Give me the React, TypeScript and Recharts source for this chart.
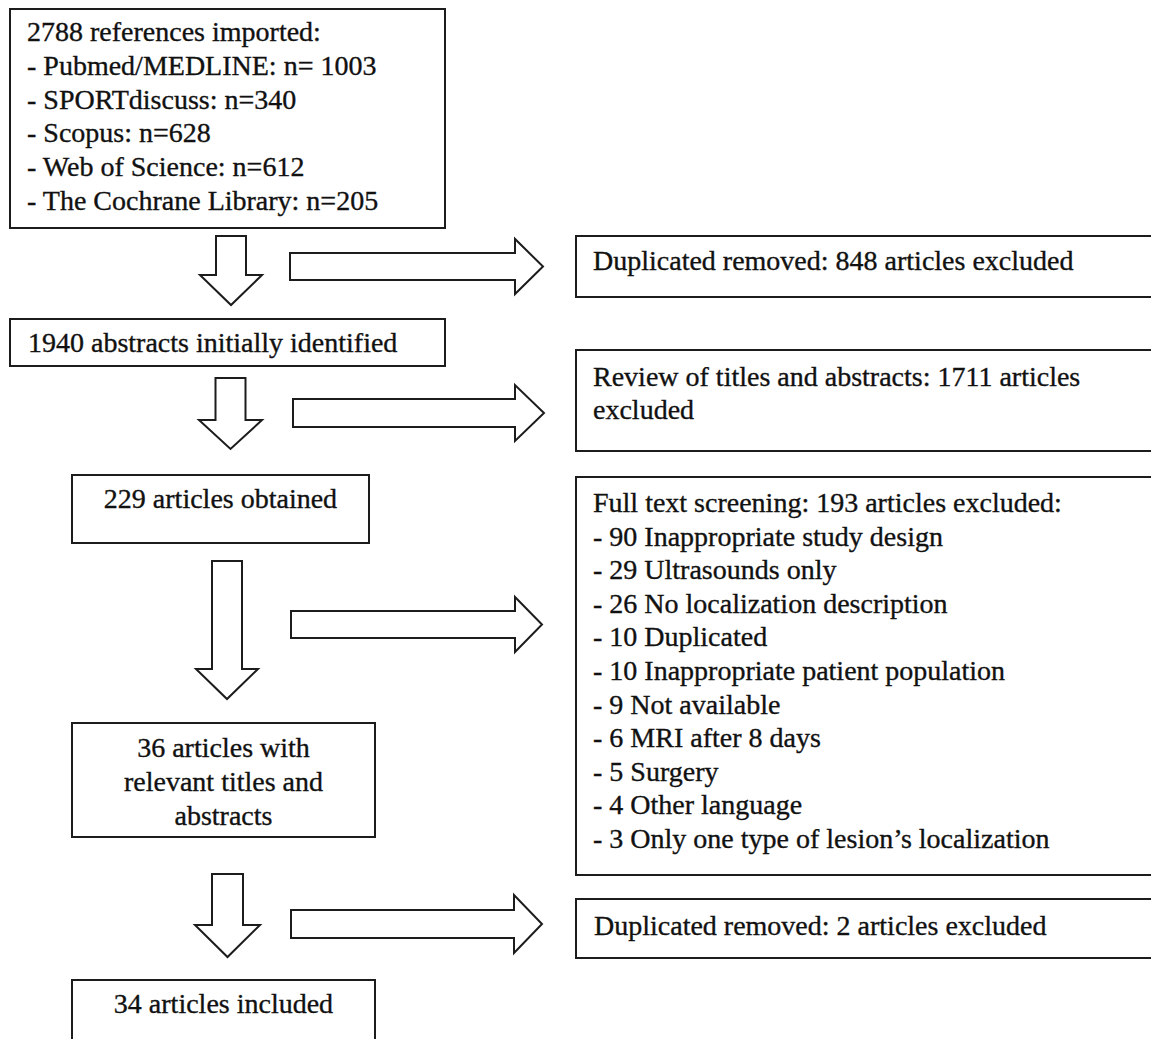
import React from 'react';
import { ComposedChart, XAxis, YAxis, ReferenceArea } from 'recharts';

// ---------- data ----------
const sourceNames = ['Pubmed/MEDLINE', 'SPORTdiscuss', 'Scopus', 'Web of Science', 'The Cochrane Library'];
const sourceCountText = ['n= 1003', 'n=340', 'n=628', 'n=612', 'n=205'];

const stageCounts = [2788, 1940, 229, 36, 34];
const stageLabels = ['references imported:', 'abstracts initially identified', 'articles obtained', 'articles with', 'articles included'];
const relevantExtraLines = ['relevant titles and', 'abstracts'];

const exclusionCounts = [848, 1711, 193, 2];
const exclusionLabels = ['Duplicated removed:', 'Review of titles and abstracts:', 'Full text screening:', 'Duplicated removed:'];

const reasonCounts = [90, 29, 26, 10, 10, 9, 6, 5, 4, 3];
const reasonLabels = [
  'Inappropriate study design',
  'Ultrasounds only',
  'No localization description',
  'Duplicated',
  'Inappropriate patient population',
  'Not available',
  'MRI after 8 days',
  'Surgery',
  'Other language',
  'Only one type of lesion\u2019s localization',
];

// ---------- text per box ----------
const boxText: Record<string, string[]> = {
  imported: [
    `${stageCounts[0]} ${stageLabels[0]}`,
    ...sourceNames.map((n, i) => `- ${n}: ${sourceCountText[i]}`),
  ],
  dup1: [`${exclusionLabels[0]} ${exclusionCounts[0]} articles excluded`],
  abstracts: [`${stageCounts[1]} ${stageLabels[1]}`],
  review: [`${exclusionLabels[1]} ${exclusionCounts[1]} articles`, 'excluded'],
  obtained: [`${stageCounts[2]} ${stageLabels[2]}`],
  fulltext: [
    `${exclusionLabels[2]} ${exclusionCounts[2]} articles excluded:`,
    ...reasonCounts.map((c, i) => `- ${c} ${reasonLabels[i]}`),
  ],
  relevant: [`${stageCounts[3]} ${stageLabels[3]}`, ...relevantExtraLines],
  dup2: [`${exclusionLabels[3]} ${exclusionCounts[3]} articles excluded`],
  included: [`${stageCounts[4]} ${stageLabels[4]}`],
};

// ---------- layout (diagram units, mapped through the axes) ----------
const W = 1151;
const H = 1039;

const boxLayout = [
  { id: 'imported', x1: 10, x2: 445, y1: 9, y2: 228, align: 'left', pad: 17, first: 32, lh: 33.8 },
  { id: 'dup1', x1: 576, x2: 1162, y1: 236, y2: 297, align: 'left', pad: 17, first: 34, lh: 33.6 },
  { id: 'abstracts', x1: 10, x2: 445, y1: 319, y2: 366, align: 'left', pad: 18, first: 33, lh: 33.6 },
  { id: 'review', x1: 576, x2: 1162, y1: 350, y2: 451, align: 'left', pad: 17, first: 36, lh: 33 },
  { id: 'obtained', x1: 72, x2: 369, y1: 475, y2: 543, align: 'center', pad: 0, first: 33, lh: 33.6 },
  { id: 'fulltext', x1: 576, x2: 1162, y1: 477, y2: 875, align: 'left', pad: 17, first: 35, lh: 33.6 },
  { id: 'relevant', x1: 72, x2: 375, y1: 723, y2: 837, align: 'center', pad: 0, first: 34, lh: 34 },
  { id: 'dup2', x1: 576, x2: 1162, y1: 899, y2: 958, align: 'left', pad: 18, first: 36, lh: 33.6 },
  { id: 'included', x1: 72, x2: 375, y1: 980, y2: 1050, align: 'center', pad: 0, first: 33, lh: 33.6 },
];

const arrowLayout = [
  { dir: 'down', x1: 200, x2: 262, y1: 236, y2: 305, shaft: 30, head: 30 },
  { dir: 'right', x1: 290, x2: 543, y1: 239, y2: 294, shaft: 27, head: 28 },
  { dir: 'down', x1: 199, x2: 262, y1: 378, y2: 449, shaft: 30, head: 29 },
  { dir: 'right', x1: 293, x2: 544, y1: 385, y2: 441, shaft: 28, head: 29 },
  { dir: 'down', x1: 196, x2: 258, y1: 561, y2: 699, shaft: 30, head: 30 },
  { dir: 'right', x1: 291, x2: 542, y1: 597, y2: 652, shaft: 27, head: 27 },
  { dir: 'down', x1: 195, x2: 260, y1: 874, y2: 957, shaft: 31, head: 32 },
  { dir: 'right', x1: 291, x2: 542, y1: 895, y2: 953, shaft: 28, head: 28 },
];

// ---------- styles ----------
const STROKE = '#1c1c1c';
const TEXT = '#111111';
const FONT = "'Liberation Serif', 'Times New Roman', Times, serif";
const FONT_SIZE = 28;

const BoxShape = (props: any) => {
  const { x, y, width, height, lines, align, pad, first, lh } = props;
  return (
    <g>
      <rect x={x} y={y} width={width} height={height} fill="#ffffff" stroke={STROKE} strokeWidth={2} />
      {lines.map((t: string, i: number) => {
        const tx = align === 'left' ? x + pad : x + width / 2;
        const ty = y + first + i * lh;
        return (
          <text
            key={i}
            x={tx}
            y={ty}
            textAnchor={align === 'left' ? 'start' : 'middle'}
            style={{ fontFamily: FONT, fontSize: FONT_SIZE }}
            fill={TEXT}
            stroke={TEXT}
            strokeWidth={0.35}
          >
            {t}
          </text>
        );
      })}
    </g>
  );
};

const ArrowShape = (props: any) => {
  const { x, y, width, height, dir, shaft, head } = props;
  let pts: number[][];
  if (dir === 'down') {
    const cx = x + width / 2;
    const sy = y + height - head;
    pts = [
      [cx - shaft / 2, y],
      [cx + shaft / 2, y],
      [cx + shaft / 2, sy],
      [x + width, sy],
      [cx, y + height],
      [x, sy],
      [cx - shaft / 2, sy],
    ];
  } else {
    const cy = y + height / 2;
    const sx = x + width - head;
    pts = [
      [x, cy - shaft / 2],
      [sx, cy - shaft / 2],
      [sx, y],
      [x + width, cy],
      [sx, y + height],
      [sx, cy + shaft / 2],
      [x, cy + shaft / 2],
    ];
  }
  return (
    <polygon
      points={pts.map((p) => p.join(',')).join(' ')}
      fill="#ffffff"
      stroke={STROKE}
      strokeWidth={2}
      strokeLinejoin="miter"
    />
  );
};

export default function App() {
  return (
    <div
      style={{
        position: 'absolute',
        left: 0,
        top: 0,
        width: W,
        height: H,
        overflow: 'hidden',
        background: '#ffffff',
      }}
    >
      <ComposedChart width={W} height={H} margin={{ top: 0, right: 0, bottom: 0, left: 0 }}>
        <XAxis type="number" dataKey="x" domain={[0, W]} hide allowDataOverflow />
        <YAxis type="number" dataKey="y" domain={[0, H]} reversed hide allowDataOverflow />
        {boxLayout.map((b) => (
          <ReferenceArea
            key={b.id}
            x1={b.x1}
            x2={b.x2}
            y1={b.y1}
            y2={b.y2}
            ifOverflow="visible"
            isAnimationActive={false}
            shape={(p: any) => (
              <BoxShape {...p} lines={boxText[b.id]} align={b.align} pad={b.pad} first={b.first} lh={b.lh} />
            )}
          />
        ))}
        {arrowLayout.map((a, i) => (
          <ReferenceArea
            key={`arrow-${i}`}
            x1={a.x1}
            x2={a.x2}
            y1={a.y1}
            y2={a.y2}
            ifOverflow="visible"
            isAnimationActive={false}
            shape={(p: any) => <ArrowShape {...p} dir={a.dir} shaft={a.shaft} head={a.head} />}
          />
        ))}
      </ComposedChart>
    </div>
  );
}
